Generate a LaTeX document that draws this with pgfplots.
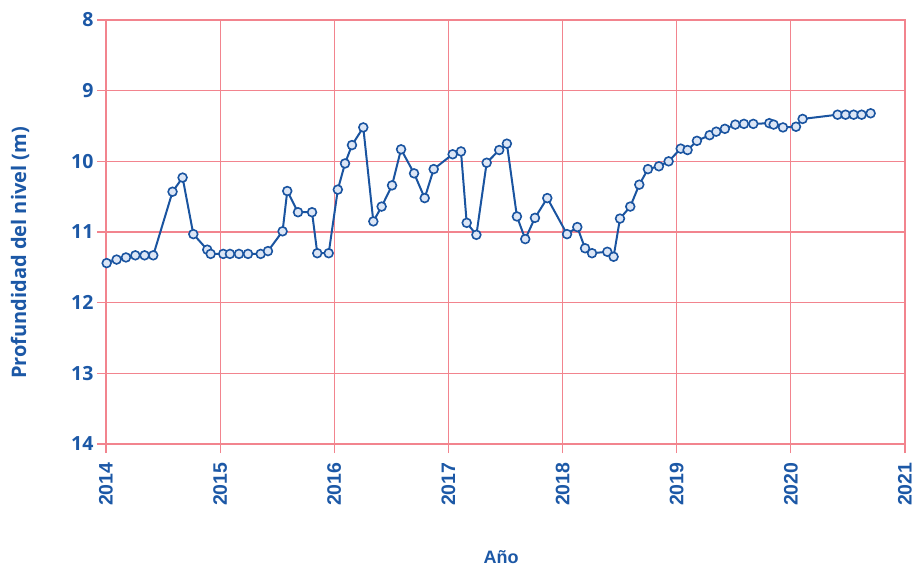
\documentclass[border=0pt]{standalone}
\usepackage{pgfplots}
\pgfplotsset{compat=1.18}
\usepackage{fontspec}
\setmainfont{Open Sans}
\newfontfamily\arialf{Liberation Sans}
\definecolor{gridred}{RGB}{242,132,142}
\definecolor{txtblue}{RGB}{28,88,166}
\definecolor{lineblue}{RGB}{26,84,160}
\definecolor{mfill}{RGB}{220,230,246}
\begin{document}
\begin{tikzpicture}
\useasboundingbox (-106pt,-121pt) rectangle (811pt,444pt);
\begin{axis}[
  at={(0,0)}, anchor=south west,
  scale only axis, width=799pt, height=424pt,
  xmin=2014, xmax=2021, ymin=8, ymax=14, y dir=reverse,
  clip=false,
  xtick={2014,2015,2016,2017,2018,2019,2020,2021},
  xticklabels={2014,2015,2016,2017,2018,2019,2020,2021},
  ytick={8,9,10,11,12,13,14},
  yticklabels={8,9,10,11,12,13,14},
  tick pos=left, tick align=outside, major tick length=9pt,
  every tick/.style={gridred, line width=1.2pt},
  axis line style={gridred, line width=1.2pt},
  grid=major, major grid style={gridred, line width=1.2pt},
  xticklabel style={yshift=-6pt, rotate=90, anchor=east, font=\arialf\bfseries\fontsize{19.5}{20}\selectfont, text=txtblue},
  yticklabel style={anchor=east, font=\bfseries\fontsize{19.5}{20}\selectfont, text=txtblue},
  ylabel={Profundidad del nivel (m)},
  ylabel style={at={(axis description cs:-0.1076,0.4505)}, anchor=center, font=\bfseries\fontsize{20}{22}\selectfont, text=txtblue},
  xlabel={Año},
  xlabel style={at={(axis description cs:0.4944,-0.2807)}, anchor=base, font=\arialf\bfseries\fontsize{18}{20}\selectfont, text=txtblue},
]
\addplot[lineblue, line width=2pt, mark=*, mark size=4.4pt, mark options={fill=mfill, draw=lineblue, line width=1.6pt}] coordinates {
(2014.006,11.44) (2014.093,11.39) (2014.175,11.36) (2014.257,11.33) (2014.338,11.33) (2014.414,11.33)
(2014.583,10.43) (2014.671,10.23) (2014.765,11.03) (2014.887,11.25) (2014.917,11.31) (2015.027,11.31)
(2015.086,11.31) (2015.165,11.31) (2015.244,11.31) (2015.355,11.31) (2015.419,11.27) (2015.547,10.99)
(2015.588,10.42) (2015.682,10.72) (2015.805,10.72) (2015.851,11.30) (2015.951,11.30) (2016.031,10.40)
(2016.094,10.03) (2016.155,9.77) (2016.254,9.52) (2016.342,10.85) (2016.415,10.64) (2016.506,10.34)
(2016.585,9.83) (2016.699,10.17) (2016.792,10.52) (2016.871,10.11) (2017.037,9.90) (2017.110,9.86)
(2017.160,10.87) (2017.245,11.04) (2017.335,10.02) (2017.445,9.84) (2017.512,9.75) (2017.600,10.78)
(2017.673,11.10) (2017.758,10.80) (2017.866,10.52) (2018.039,11.03) (2018.129,10.93) (2018.197,11.23)
(2018.258,11.30) (2018.392,11.28) (2018.447,11.35) (2018.503,10.81) (2018.593,10.64) (2018.672,10.33)
(2018.748,10.11) (2018.844,10.07) (2018.929,10.00) (2019.035,9.82) (2019.095,9.84) (2019.177,9.71)
(2019.288,9.63) (2019.346,9.58) (2019.422,9.54) (2019.513,9.48) (2019.589,9.47) (2019.671,9.47)
(2019.811,9.46) (2019.849,9.48) (2019.931,9.52) (2020.045,9.51) (2020.103,9.40) (2020.409,9.34)
(2020.479,9.34) (2020.550,9.34) (2020.620,9.34) (2020.699,9.32)
};
\end{axis}
\end{tikzpicture}
\end{document}
